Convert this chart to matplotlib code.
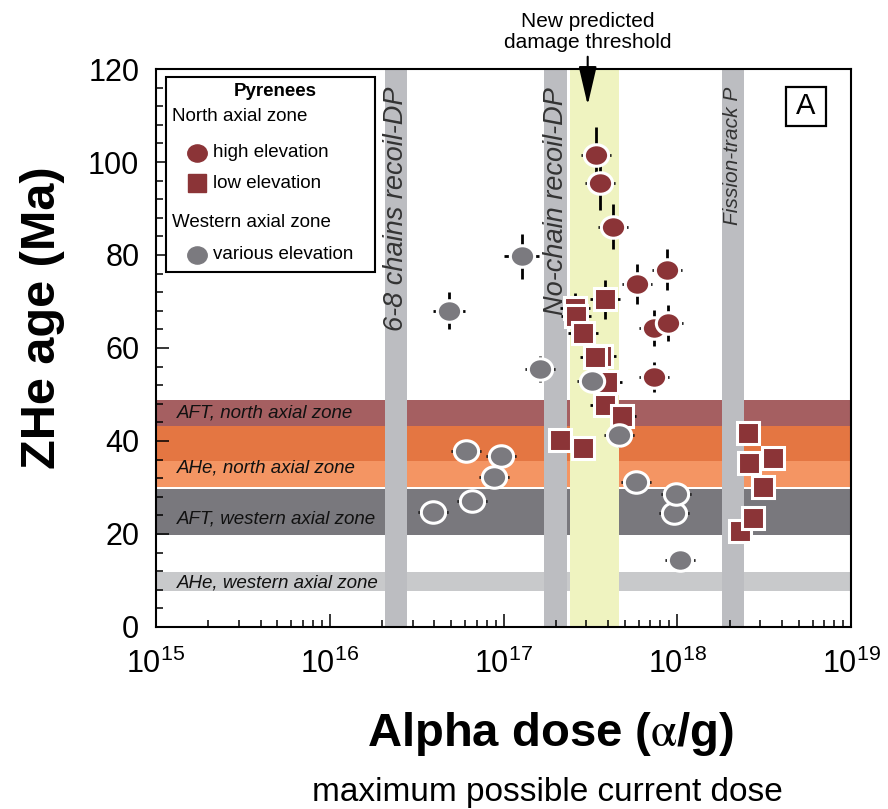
import numpy as np
import matplotlib.pyplot as plt
from matplotlib.path import Path
from matplotlib.transforms import Affine2D, blended_transform_factory
from matplotlib.patches import Rectangle
from matplotlib.ticker import MultipleLocator, LogLocator, FuncFormatter, NullFormatter

plt.rcParams['font.family'] = ['Liberation Sans', 'DejaVu Sans']
plt.rcParams['mathtext.default'] = 'regular'
plt.rcParams['mathtext.fontset'] = 'stix'

# North axial zone, high elevation (red circles)
nh_dose = [3.39e17, 3.59e17, 4.28e17, 5.9e17, 8.69e17, 7.35e17, 8.85e17, 7.35e17]
nh_age = [101.5, 95.4, 86.1, 73.8, 76.8, 64.3, 65.3, 53.8]
nh_age_err = [6.0, 5.8, 4.9, 4.3, 4.4, 3.8, 3.9, 3.2]
nh_dose_err = [0.22, 0.22, 0.22, 0.22, 0.22, 0.22, 0.22, 0.22]

# North axial zone, low elevation (red squares)
nl_dose = [3.84e17, 2.58e17, 2.60e17, 2.87e17, 3.62e17, 3.36e17, 3.96e17, 3.82e17,
           4.79e17, 2.10e17, 2.88e17, 2.54e18, 2.57e18, 3.54e18, 3.13e18, 2.30e18, 2.71e18]
nl_age = [70.5, 68.5, 66.8, 63.2, 58.2, 58.0, 52.7, 47.7,
          45.3, 40.2, 38.4, 41.7, 35.2, 36.3, 30.0, 20.7, 23.4]
nl_age_err = [4.2, 3.3, 2.5, 2.5, 2.6, 2.6, 2.0, 2.0,
              2.0, 1.5, 1.5, 1.5, 1.5, 1.5, 1.5, 1.0, 1.0]
nl_dose_err = [0.22, 0.22, 0.22, 0.22, 0.22, 0.22, 0.22, 0.22,
               0.2, 0.1, 0.1, 0.1, 0.1, 0.1, 0.1, 0.1, 0.1]

# Western axial zone (gray circles)
w_dose = [1.27e17, 4.84e16, 1.63e17, 3.24e17, 4.61e17, 6.12e16, 9.7e16, 8.87e16,
          6.56e16, 3.92e16, 5.82e17, 9.6e17, 9.8e17, 1.04e18]
w_age = [79.7, 68.0, 55.4, 53.0, 41.2, 37.8, 36.8, 32.2,
         27.2, 24.8, 31.2, 24.6, 28.6, 14.5]
w_age_err = [4.8, 4.0, 2.8, 2.5, 2.5, 1.5, 1.5, 1.5,
             1.5, 1.5, 1.5, 1.5, 1.5, 1.5]
w_dose_err = [0.26, 0.24, 0.22, 0.22, 0.22, 0.22, 0.22, 0.22,
              0.22, 0.22, 0.22, 0.22, 0.22, 0.22]

# horizontal bands (AFT / AHe ages)
hb_lo = [43.2, 35.7, 30.1, 19.8, 7.7]
hb_hi = [48.8, 43.2, 35.7, 29.7, 11.8]
hb_colors = ['#a55f61', '#e47642', '#f49563', '#79787d', '#c8c9cb']
hb_labels = ['AFT, north axial zone', 'AHe, north axial zone',
             'AFT, western axial zone', 'AHe, western axial zone']
hb_label_age = [46.0, 34.1, 23.2, 9.5]

# vertical bands (damage thresholds)
vb_lo = [2.09e16, 1.72e17, 1.80e18]
vb_hi = [2.79e16, 2.31e17, 2.42e18]
vb_labels = ['6-8 chains recoil-DP', 'No-chain recoil-DP', 'Fission-track P']
vb_label_size = [19.5, 19.5, 15]
thr_lo, thr_hi = 2.40e17, 4.60e17
thr_arrow_x = 3.05e17

red = '#8b3437'
grey = '#7b7a7f'

fig = plt.figure(figsize=(8.88, 8.09), dpi=100)
ax = fig.add_axes([0.1757, 0.225, 0.7827, 0.6897])
ax.set_xscale('log')
ax.set_xlim(1e15, 1e19)
ax.set_ylim(0, 120)

for lo, hi, c in zip(hb_lo, hb_hi, hb_colors):
    ax.axhspan(lo, hi, color=c, lw=0, zorder=0)
for lo, hi in zip(vb_lo, vb_hi):
    ax.axvspan(lo, hi, color='#bcbdc1', lw=0, zorder=1)
ax.axvspan(thr_lo, thr_hi, color='#eff3c0', lw=0, zorder=1)

for lab, a in zip(hb_labels, hb_label_age):
    ax.text(0.03, a, lab, transform=blended_transform_factory(ax.transAxes, ax.transData),
            fontsize=13.5, style='italic', va='center', ha='left', color='#111111', zorder=2)

trans = blended_transform_factory(ax.transData, ax.transAxes)
for lo, hi, lab, fs in zip(vb_lo, vb_hi, vb_labels, vb_label_size):
    ax.text(np.sqrt(lo * hi), 0.968, lab, transform=trans, rotation=90,
            fontsize=fs, style='italic', ha='center', va='top', color='#333333', zorder=2)

# ellipse marker (the circles are slightly wider than tall)
ell = Path.unit_circle().transformed(Affine2D().scale(1.13, 1.0))


def draw(dose, age, age_err, dose_err, marker, color, ms, z):
    d = np.array(dose)
    f = np.array(dose_err)
    xerr = [d - d / (1 + f), d * f]
    ax.errorbar(d, age, xerr=xerr, yerr=age_err, fmt='none', ecolor='k',
                elinewidth=2, capsize=0, zorder=3)
    ax.plot(d, age, ls='none', marker=marker, ms=ms, mfc=color, mec='white',
            mew=2.2, zorder=z)


draw(nh_dose, nh_age, nh_age_err, nh_dose_err, ell, red, 17.5, 4)
draw(nl_dose, nl_age, nl_age_err, nl_dose_err, 's', red, 15.3, 4.1)
draw(w_dose, w_age, w_age_err, w_dose_err, ell, grey, 17.5, 4.2)

# axes styling
for s in ax.spines.values():
    s.set_linewidth(1.5)
    s.set_zorder(6)
ax.xaxis.set_major_locator(LogLocator(base=10, numticks=10))
ax.xaxis.set_minor_locator(LogLocator(base=10, subs=np.arange(2, 10), numticks=50))
ax.xaxis.set_minor_formatter(NullFormatter())
ax.xaxis.set_major_formatter(FuncFormatter(lambda v, p: r'$10^{%d}$' % round(np.log10(v))))
ax.yaxis.set_major_locator(MultipleLocator(20))
ax.yaxis.set_minor_locator(MultipleLocator(4))
ax.tick_params(which='both', direction='in', top=False, right=False, width=1.1)
ax.tick_params(which='major', length=9.5, labelsize=22)
ax.tick_params(axis='x', which='major', pad=16)
ax.tick_params(axis='y', which='major', pad=12)
ax.tick_params(which='minor', length=5)

ax.set_ylabel('ZHe age (Ma)', fontsize=35, fontweight='bold')
ax.yaxis.set_label_coords(-0.164, 0.554)
ax.yaxis.label.set_va('center')
ax.set_xlabel(r'Alpha dose ($\mathrm{\alpha}$/g)', fontsize=34, fontweight='bold')
ax.xaxis.set_label_coords(0.567, -0.192)
ax.xaxis.label.set_va('center')
fig.text(0.616, 0.021, 'maximum possible current dose', fontsize=24, ha='center', va='center')

# threshold annotation
ax.text(thr_arrow_x, 1.03, 'New predicted\ndamage threshold', transform=trans,
        ha='center', va='bottom', fontsize=15, linespacing=1.15)
ax.annotate('', xy=(thr_arrow_x, 0.9355), xytext=(thr_arrow_x, 1.022),
            xycoords=trans, textcoords=trans,
            arrowprops=dict(arrowstyle='-|>,head_length=1.2,head_width=0.28',
                            mutation_scale=20, color='k', lw=1.5,
                            shrinkA=0, shrinkB=0), zorder=7)

# panel letter
ax.add_patch(Rectangle((0.9065, 0.898), 0.0575, 0.07, transform=ax.transAxes,
                       fill=False, ec='k', lw=1.6, zorder=7))
ax.text(0.9352, 0.933, 'A', transform=ax.transAxes, ha='center', va='center',
        fontsize=21, zorder=7)

# legend box
ax.add_patch(Rectangle((0.0144, 0.636), 0.3006, 0.3497, transform=ax.transAxes,
                       fc='white', ec='k', lw=1.5, zorder=8))
ax.text(0.171, 0.9588, 'Pyrenees', transform=ax.transAxes, fontsize=13.5,
        fontweight='bold', ha='center', va='center', zorder=9)
ax.text(0.023, 0.914, 'North axial zone', transform=ax.transAxes, fontsize=13.5,
        va='center', zorder=9)
ax.plot([0.059], [0.8495], transform=ax.transAxes, marker=ell, ms=14, color=red,
        ls='none', zorder=9, clip_on=False)
ax.text(0.082, 0.8495, 'high elevation', transform=ax.transAxes, fontsize=13.5,
        va='center', zorder=9)
ax.plot([0.059], [0.7957], transform=ax.transAxes, marker='s', ms=13, color=red,
        ls='none', zorder=9, clip_on=False)
ax.text(0.082, 0.7957, 'low elevation', transform=ax.transAxes, fontsize=13.5,
        va='center', zorder=9)
ax.text(0.023, 0.7258, 'Western axial zone', transform=ax.transAxes, fontsize=13.5,
        va='center', zorder=9)
ax.plot([0.059], [0.6667], transform=ax.transAxes, marker=ell, ms=14, color=grey,
        ls='none', zorder=9, clip_on=False)
ax.text(0.082, 0.6667, 'various elevation', transform=ax.transAxes, fontsize=13.5,
        va='center', zorder=9)

fig.savefig('out.png', dpi=100)
